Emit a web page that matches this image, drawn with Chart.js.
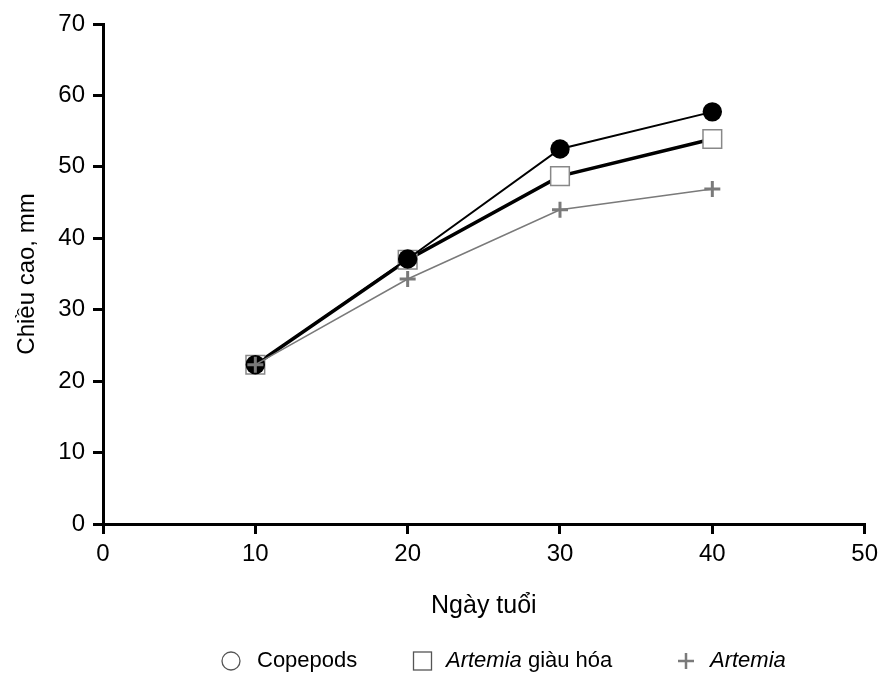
<!DOCTYPE html>
<html>
<head>
<meta charset="utf-8">
<script src="https://cdn.jsdelivr.net/npm/chart.js@4/dist/chart.umd.min.js"></script>
<style>
  html, body { margin: 0; padding: 0; background: #fff; }
  #wrap { width: 884px; height: 675px; }
</style>
</head>
<body>
<div id="wrap"><canvas id="myChart" width="884" height="675"></canvas></div>
<script>
// Datos
const ngay = [10, 20, 30, 40];
const copepods = [22.3, 37.1, 52.5, 57.7];
const artemiaGiauHoa = [22.3, 37.0, 48.7, 53.9];
const artemia = [22.3, 34.3, 44.0, 46.9];
const xTicks = [0, 10, 20, 30, 40, 50];
const yTicks = [0, 10, 20, 30, 40, 50, 60, 70];

const fuente = "'Liberation Sans', Arial, sans-serif";
const gris = "#7a7a7a";

// Puntos {x, y}
function pares(valores) {
  return ngay.map((x, i) => ({ x: x, y: valores[i] }));
}

// Leyenda dibujada a mano (para la cursiva de "Artemia")
const leyenda = {
  id: "leyenda",
  afterDraw(chart) {
    const ctx = chart.ctx;
    const y = 661;
    ctx.save();
    ctx.textBaseline = "middle";
    ctx.textAlign = "left";

    // Copepods: círculo abierto
    ctx.strokeStyle = "#555";
    ctx.lineWidth = 1.3;
    ctx.beginPath();
    ctx.arc(231, y, 9, 0, Math.PI * 2);
    ctx.stroke();
    ctx.fillStyle = "#000";
    ctx.font = "22px " + fuente;
    ctx.fillText("Copepods", 257, y);

    // Artemia giàu hóa: cuadrado abierto
    ctx.strokeRect(413.5, y - 9, 18, 18);
    ctx.font = "italic 22px " + fuente;
    ctx.fillText("Artemia", 446, y);
    let w = ctx.measureText("Artemia ").width;
    ctx.font = "22px " + fuente;
    ctx.fillText("giàu hóa", 446 + w, y);

    // Artemia: cruz gris
    ctx.strokeStyle = gris;
    ctx.lineWidth = 2.5;
    ctx.beginPath();
    ctx.moveTo(678, y); ctx.lineTo(694, y);
    ctx.moveTo(686, y - 8); ctx.lineTo(686, y + 8);
    ctx.stroke();
    ctx.fillStyle = "#000";
    ctx.font = "italic 22px " + fuente;
    ctx.fillText("Artemia", 710, y);
    ctx.restore();
  }
};

const datos = {
  datasets: [
    {
      label: "Copepods",
      data: pares(copepods),
      borderColor: "#000",
      borderWidth: 2,
      pointStyle: "circle",
      pointRadius: 9.7,
      pointBackgroundColor: "#000",
      pointBorderColor: "#000",
      pointBorderWidth: 0,
      order: 1
    },
    {
      label: "Artemia giàu hóa",
      data: pares(artemiaGiauHoa),
      borderColor: "#000",
      borderWidth: 3.5,
      pointStyle: "rect",
      pointRadius: 13.2,
      pointBackgroundColor: "#fff",
      pointBorderColor: "#888",
      pointBorderWidth: 1.5,
      order: 2
    },
    {
      label: "Artemia",
      data: pares(artemia),
      borderColor: gris,
      borderWidth: 1.5,
      pointStyle: "cross",
      pointRadius: 8,
      pointBorderColor: gris,
      pointBorderWidth: 3,
      order: 0
    }
  ]
};

const config = {
  type: "line",
  data: datos,
  plugins: [leyenda],
  options: {
    responsive: false,
    animation: false,
    layout: { padding: { left: 9, right: 16, top: 24, bottom: 50 } },
    plugins: { legend: { display: false }, tooltip: { enabled: false } },
    scales: {
      x: {
        type: "linear",
        min: 0,
        max: 50,
        afterFit: (s) => { s.height = 101; },
        afterBuildTicks: (s) => { s.ticks = xTicks.map((v) => ({ value: v })); },
        border: { display: true, color: "#000", width: 3 },
        grid: { drawOnChartArea: false, drawTicks: true, tickLength: 10, color: "#000", lineWidth: 3 },
        ticks: { color: "#000", font: { family: fuente, size: 24 }, padding: 6, maxRotation: 0 },
        title: { display: true, text: "Ngày tuổi", color: "#000", font: { family: fuente, size: 25 }, padding: 4 }
      },
      y: {
        type: "linear",
        min: 0,
        max: 70,
        afterFit: (s) => { s.width = 94; },
        afterBuildTicks: (s) => { s.ticks = yTicks.map((v) => ({ value: v })); },
        border: { display: true, color: "#000", width: 3 },
        grid: { drawOnChartArea: false, drawTicks: true, tickLength: 10, color: "#000", lineWidth: 3 },
        ticks: { color: "#000", font: { family: fuente, size: 24 }, padding: 8 },
        title: { display: true, text: "Chiều cao, mm", color: "#000", font: { family: fuente, size: 24 }, padding: 4 }
      }
    }
  }
};

const ctx = document.getElementById("myChart").getContext("2d");
new Chart(ctx, config);
</script>
</body>
</html>
